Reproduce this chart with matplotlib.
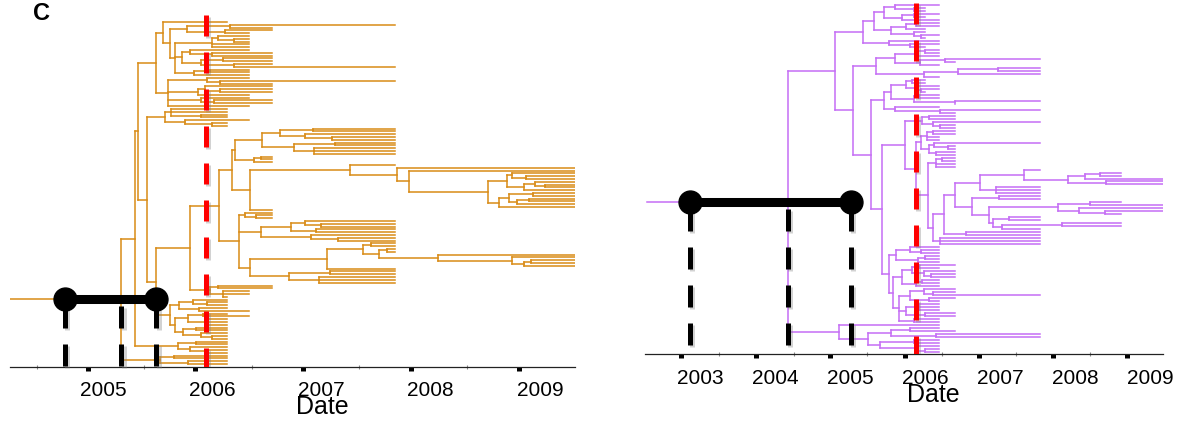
import matplotlib
matplotlib.use('Agg')
import matplotlib.pyplot as plt
import matplotlib.patheffects as pe

plt.rcParams['font.family'] = ['Liberation Sans', 'DejaVu Sans']

# ---------------- data: left (orange) tree, node = [date, children...], tip = date ----------------
L_STEM_START = 2004.15
L_UPPER = [2005.49,
           [2005.55,
            2006.14,
            [2005.61,
             [2005.77, [2006.16, 2007.67, 2006.55], [2006.12, 2006.55, 2006.34]],
             [2005.66,
              [2006.00, [2006.05, 2006.34, [2006.20, 2006.34, 2006.34]], 2006.34, 2006.34],
              [2005.72, [2005.80, 2006.34, [2006.00, 2006.55, 2006.55]],
               [2005.90, [2006.10, 2006.55, 2006.55], [2006.20, 2006.55, 2007.67]]],
              [2005.83, [2005.98, 2006.34, 2006.34], 2006.34]]]],
           [2005.60,
            [2005.95, 2006.34, [2006.07, 2007.67, 2006.55]],
            [2005.87, [2005.93, 2006.55, [2006.07, 2006.55, 2006.55]], 2006.34],
            [2005.90, 2006.34, [2006.02, 2006.55, 2006.55]],
            2006.34]]
L_SMALL = [2005.57, [2005.62, 2006.14, 2006.14, [2005.90, 2006.14, 2006.14]],
           [2005.75, 2006.34, [2006.00, 2006.14, 2006.14]]]
L_3A = [2006.21,
        [2006.46, [2006.62, [2006.92, 2007.67, 2007.67], [2006.85, 2007.67, [2007.10, 2007.67, 2007.67]]],
         [2006.75, [2007.12, 2007.67, 2007.67], [2006.93, 2007.67, 2007.67, 2007.67]]],
        [2006.38, [2006.45, 2006.55, 2006.55], 2006.55]]
L_3B = [2006.35,
        [2007.26, 2007.67,
         [2007.69, 2009.32,
          [2007.80, 2009.32,
           [2008.52,
            [2008.70, [2008.74, 2009.32, [2008.87, 2009.32, 2009.32]],
             [2008.85, [2008.95, 2009.32, [2009.05, 2009.32, 2009.32]], 2009.32]],
            [2008.62, [2008.72, [2008.94, 2009.32, 2009.32], [2008.79, [2008.90, 2009.32, 2009.32], 2009.32]],
             2009.32]]]]],
        2006.55]
L_3C = [2006.25,
        [2006.30, 2006.55, [2006.40, 2006.55, 2006.55]],
        [2006.45,
         [2006.72, [2006.85, 2007.67, [2007.00, 2007.67, 2007.67]], [2006.95, 2007.67, 2007.67]],
         [2006.90, 2007.67, [2007.15, 2007.67, 2007.67]]],
        [2006.35,
         [2007.05,
          [2007.38, [2007.45, 2007.67, 2007.67],
           [2007.53, [2007.60, 2007.67, 2007.67],
            [2008.07, 2009.32, [2008.74, 2009.32, [2008.85, [2008.92, 2009.32, 2009.32], 2009.32]]]]],
          2007.67],
         [2006.70, [2007.08, 2007.67, 2007.67], [2006.98, 2007.67, 2007.67, 2007.67]]]]
L_M2 = [2005.98, [2006.05, 2006.55, 2006.55], [2006.10, 2006.34, 2006.34, 2006.14]]
L_LOW1 = [2005.61,
          [2005.70, [2005.82, 2006.14, [2005.95, 2006.14, 2006.14]], [2005.88, 2006.14, 2006.34]],
          [2005.66, [2005.78, [2005.92, 2006.14, 2006.34], [2005.95, 2006.14, 2006.14, 2006.14]],
           [2005.73, [2005.85, 2006.14, 2006.14], [2005.90, 2006.14, [2006.00, 2006.14, 2006.14]]]]]
L_LOW2 = [2005.69, [2005.85, 2006.14, 2006.14], [2005.80, 2006.14, [2005.95, 2006.14, 2006.14]]]
L_LOW3 = [2005.52, [2005.65, 2006.14, 2006.14], [2005.78, 2006.14, 2006.14]]
L_TREE = [2005.17,
          [2005.29,
           [2005.32, L_UPPER,
            [2005.40, L_SMALL,
             [2005.49, [2005.80, [2006.06, [2006.18, L_3A, L_3B], L_3C], L_M2], L_LOW1]]],
           L_LOW2],
          L_LOW3]
L_HPD = [2004.65, 2005.49]
L_RED = 2005.94
L_TICKS = [2004.86, 2005.84, 2006.83, 2007.82, 2008.81]
L_MINOR = [2004.40, 2005.38, 2006.36, 2007.34, 2008.33]
L_LABEL_YEARS = [2005, 2006, 2007, 2008, 2009]

# ---------------- data: right (purple) tree ----------------
R_STEM_START = 2002.29
R_1 = [2005.17,
       [2005.32,
        [2005.45, [2005.60, 2006.19, [2005.85, 2006.00, 2006.00]], [2005.70, [2005.85, 2006.19, 2006.00], 2006.19]],
        [2005.55, [2005.75, [2005.88, 2006.19, 2006.19], 2006.00], [2005.85, 2006.00, [2005.95, 2006.19, 2006.00]]]],
       [2005.52, 2006.19, [2005.80, 2006.19, 2006.00]]]
R_2 = [2005.35,
       [2005.60, [2005.90, [2006.00, 2006.19, 2006.19], 2006.19], [2005.93, [2006.27, 2007.53, 2006.40], 2006.19]],
       [2005.98, [2006.44, [2006.97, 2007.53, 2007.53], 2007.53], 2006.19]]
R_3 = [2005.45,
       [2005.55, [2005.75, [2005.82, 2006.00, 2006.00], [2005.90, 2006.19, [2005.95, 2006.19, 2006.00]]],
        [2005.85, [2005.92, 2006.19, 2006.19], [2006.40, 2007.53, 2006.40]]],
       [2005.60, 2006.19, [2006.20, 2007.53, 2006.40]]]
R_4 = [2005.96, [2006.05, 2006.40, 2006.40], [2006.10, 2007.53, [2006.20, 2006.40, 2006.40]]]
R_5 = [2005.88,
       [2005.95, [2006.02, [2006.10, 2006.40, 2006.40], 2006.19, 2006.19],
        [2006.05, [2006.12, 2007.53, [2006.30, 2006.40, 2006.40]], [2006.15, 2006.40, 2006.40]]],
       [2006.04,
        [2006.15, [2006.22, 2006.40, 2006.40], 2006.40, 2006.40],
        [2006.11,
         [2006.25,
          [2006.40,
           [2006.73, [2007.32, 2007.53,
                      [2007.91, [2008.13, [2008.33, 2008.61, 2008.61], 2009.17], [2008.41, 2009.17, 2009.17]]],
            [2006.95, 2007.53, 2007.53, 2007.53]],
           [2006.63, [2006.99, 2007.53, 2007.53],
            [2006.85, [2007.77, [2008.20, 2008.61, 2009.17], [2008.05, 2009.17, [2008.40, 2009.17, 2008.61]]],
             [2006.90, [2007.12, 2007.53, 2007.53], [2007.02, [2007.83, 2008.61, 2008.61], 2007.53]]]]],
          [2006.55, 2007.53, 2007.53]],
         [2006.20, 2007.53, 2007.53, 2007.53]]]]
R_6 = [2005.52,
       [2005.62, [2005.80, 2006.19, [2005.95, 2006.19, 2006.19]], [2005.90, [2006.00, 2006.19, 2006.19], 2006.19]],
       [2005.58,
        [2005.70, [2005.82, [2005.92, 2006.40, 2006.19], [2005.98, 2006.40, [2006.08, 2006.40, 2006.40]]],
         [2005.88, [2005.96, 2006.19, 2006.19], 2006.19]],
        [2005.65,
         [2005.80, [2005.98, 2006.40, [2006.10, 2006.40, 2007.53]], [2006.05, 2006.40, 2006.19]],
         [2005.75, [2005.92, 2006.19, 2006.19, 2006.19], [2006.00, 2006.40, 2006.40]],
         [2005.85, 2006.19, 2006.19]]]]
R_7 = [2005.24, [2005.55, [2005.80, 2006.19, 2006.40], [2006.15, 2007.53, 2007.53]],
       [2005.40, [2005.85, 2006.19, 2006.19], [2005.90, 2006.19, [2006.00, 2006.19, 2006.19]]]]
R_TREE = [2004.17,
          [2004.80, R_1,
           [2005.04, R_2,
            [2005.28, R_3,
             [2005.43, [2005.73, R_4, R_5], R_6]]]],
          [2004.85, 2006.19, R_7]]
R_HPD = [2002.87, 2005.01]
R_RED = 2005.88
R_TICKS = [2002.75, 2003.75, 2004.73, 2005.73, 2006.72, 2007.71, 2008.69]
R_MINOR = [2003.25, 2004.25, 2005.23, 2006.23, 2007.21, 2008.20]
R_LABEL_YEARS = [2003, 2004, 2005, 2006, 2007, 2008, 2009]

W, H = 1182, 421
fig = plt.figure(figsize=(W / 100, H / 100), dpi=100)


def draw_tree(ax, tree, stem_start, color, lw):
    hx0, hx1, hy, vx, vy0, vy1 = [], [], [], [], [], []
    counter = [0]

    def rec(node, parent_date):
        if isinstance(node, list):
            date = node[0]
            ys = [rec(c, date) for c in node[1:]]
            y = 0.5 * (ys[0] + ys[-1])
            vx.append(date); vy0.append(ys[0]); vy1.append(ys[-1])
        else:
            date = node
            y = counter[0]
            counter[0] += 1
        hx0.append(parent_date); hx1.append(date); hy.append(y)
        return y

    ry = rec(tree, stem_start)
    ax.hlines(hy, hx0, hx1, colors=color, lw=lw, capstyle='projecting', zorder=1)
    ax.vlines(vx, vy0, vy1, colors=color, lw=lw, capstyle='projecting', zorder=1)
    return ry, counter[0]


def panel(x0px, x1px, axis_px, tip_top, tip_bot, red_top, tree, stem, color, xlim,
          hpd, red, ticks, minor, label_years, label_px):
    ax = fig.add_axes([x0px / W, 1 - axis_px / H, (x1px - x0px) / W, axis_px / H])
    root_y, n = draw_tree(ax, tree, stem, color, 1.1)
    s = (tip_bot - tip_top) / (n - 1)

    def ydat(p):
        return (p - tip_top) / s

    ax.set_xlim(*xlim)
    ax.set_ylim(ydat(axis_px), ydat(0))
    shadow = [pe.SimpleLineShadow(offset=(1.5, -1.5), shadow_color='gray', alpha=0.35), pe.Normal()]
    # red dashed line
    ax.plot([red, red], [ydat(red_top), ydat(axis_px)], color='#FF0000', lw=3.6,
            linestyle=(0, (4.2, 3.2)), solid_capstyle='butt', dash_capstyle='butt',
            zorder=3, path_effects=shadow)
    # HPD bar
    root_date = tree[0]
    for xd in (hpd[0], root_date, hpd[1]):
        ax.plot([xd, xd], [root_y, ydat(axis_px)], color='black', lw=3.6,
                linestyle=(6.2, (4.4, 3.2)), dash_capstyle='butt', zorder=4,
                path_effects=shadow, clip_on=False)
    ax.plot(hpd, [root_y, root_y], color='black', lw=6.5, solid_capstyle='butt', zorder=5)
    ax.plot(hpd, [root_y, root_y], 'o', color='black', ms=16.5, zorder=6)

    for sp in ('left', 'right', 'top'):
        ax.spines[sp].set_visible(False)
    ax.spines['bottom'].set_color('#222222')
    ax.spines['bottom'].set_linewidth(0.9)
    ax.set_yticks([])
    ax.set_xticks(ticks)
    ax.set_xticks(minor, minor=True)
    ax.tick_params(axis='x', which='major', length=3, width=3.6, color='black',
                   direction='out', labelbottom=False)
    ax.tick_params(axis='x', which='minor', length=3, width=0.8, color='#888888',
                   direction='inout', labelbottom=False)
    for yr in label_years:
        ax.text(yr, -(label_px - axis_px) / axis_px, str(yr), transform=ax.get_xaxis_transform(),
                ha='center', va='center', fontsize=15, color='black')
    return ax


panel(10, 575, 367, 22, 364, 15, L_TREE, L_STEM_START, '#D98B16', (2004.15, 2009.32),
      L_HPD, L_RED, L_TICKS, L_MINOR, L_LABEL_YEARS, 390)
panel(645, 1163, 354, 5, 352, 3, R_TREE, R_STEM_START, '#C56EF5', (2002.267, 2009.173),
      R_HPD, R_RED, R_TICKS, R_MINOR, R_LABEL_YEARS, 378)

fig.text(322 / W, 1 - 407 / H, 'Date', ha='center', va='center', fontsize=18)
fig.text(933 / W, 1 - 395 / H, 'Date', ha='center', va='center', fontsize=18)
fig.text(42 / W, 1 - 14 / H, 'C', ha='center', va='center', fontsize=17, fontweight='bold')

fig.savefig('out.png', dpi=100)
